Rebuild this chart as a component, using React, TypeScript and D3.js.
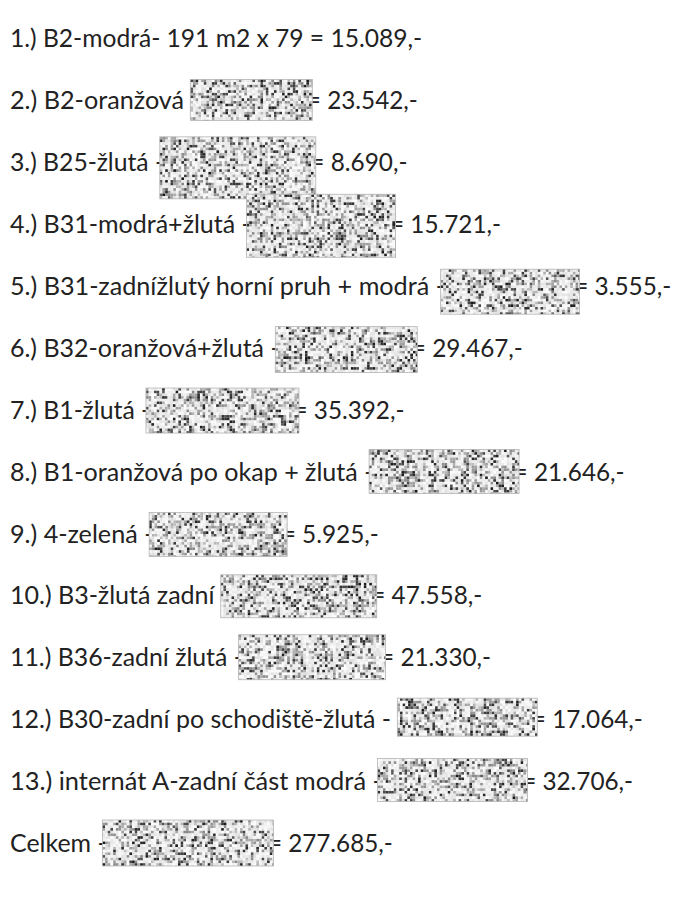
import React, { useEffect, useRef } from "react";
import * as d3 from "d3";

// rows of the price list
const rowLabels = [
  "1.) B2-modrá- 191 m2 x 79 ",
  "2.) B2-oranžová ",
  "3.) B25-žlutá -",
  "4.) B31-modrá+žlutá -",
  "5.) B31-zadnížlutý horní pruh + modrá -",
  "6.) B32-oranžová+žlutá -",
  "7.) B1-žlutá -",
  "8.) B1-oranžová po okap + žlutá -",
  "9.) 4-zelená -",
  "10.) B3-žlutá zadní ",
  "11.) B36-zadní žlutá -",
  "12.) B30-zadní po schodiště-žlutá - ",
  "13.) internát A-zadní část modrá -",
  "Celkem -",
];
const rowAmounts = [15089, 23542, 8690, 15721, 3555, 29467, 35392, 21646, 5925, 47558, 21330, 17064, 32706, 277685];

// layout of the hidden (masked) boxes
const maskWidths = [0, 122, 156, 149, 139, 142, 153, 150, 138, 156, 147, 140, 150, 171];
const maskHeights = [0, 41, 62, 63, 45, 46, 45, 44, 44, 43, 45, 38, 43, 46];
const maskOffsets = [0, 0, 6, 2, 6, 2, 1, 0, 1, 1, 0, -2, -1, 0];

const W = 681;
const H = 920;

const czk = d3.formatLocale({ decimal: ",", thousands: ".", grouping: [3], currency: ["", ""] });
const fmt = (v: number) => czk.format(",")(v) + ",-";

// approximate advance widths (em) of the original document font
const adv: Record<string, number> = {
  " ": 0.226, "+": 0.498, ",": 0.25, "-": 0.306, ".": 0.252, "=": 0.498, ")": 0.303,
  A: 0.579, B: 0.544, C: 0.533,
  a: 0.479, b: 0.525, c: 0.423, d: 0.525, e: 0.498, f: 0.305, g: 0.471, h: 0.525, i: 0.229,
  k: 0.455, l: 0.229, m: 0.799, n: 0.525, o: 0.527, p: 0.525, r: 0.349, s: 0.391, t: 0.335,
  u: 0.525, v: 0.452, x: 0.433, y: 0.453, z: 0.395,
  "á": 0.479, "í": 0.229, "ý": 0.453, "ž": 0.395, "š": 0.391, "č": 0.423, "ě": 0.498,
};
const emWidth = (s: string) =>
  Array.from(s).reduce((acc, ch) => acc + (adv[ch] ?? (/[0-9]/.test(ch) ? 0.507 : 0.5)), 0);

// deterministic hash for the grain texture of the masks
const hash = (a: number, b: number, c: number) => {
  let h = (a * 374761393 + b * 668265263 + c * 2147483647) | 0;
  h = Math.imul(h ^ (h >>> 13), 1274126177);
  h = h ^ (h >>> 16);
  return ((h >>> 0) % 10000) / 10000;
};

export default function App() {
  const ref = useRef<SVGSVGElement>(null);

  useEffect(() => {
    const svg = d3.select(ref.current);
    svg.selectAll("*").remove();

    const y = d3.scaleLinear().domain([0, rowLabels.length - 1]).range([38, 843]);
    const fontFamily = "Lato, 'Open Sans', sans-serif";
    const color = "#222";
    const em = 27.3; // document em in px
    const fs = 25.5; // drawn size, x-height matched
    const left = 10;
    const cell = 2.7;

    const shade = (v: number) => {
      let g: number;
      if (v < 0.15) g = 25 + v * 450;
      else if (v < 0.42) g = 100 + v * 220;
      else g = 198 + v * 57;
      return d3.rgb(g, g, g).toString();
    };

    const addText = (g: any, x: number, cy: number, s: string) => {
      const t = s.trimEnd();
      g.append("text")
        .attr("x", x).attr("y", cy).attr("dy", "0.36em")
        .attr("font-family", fontFamily).attr("font-size", fs).attr("fill", color)
        .attr("textLength", emWidth(t) * em)
        .attr("lengthAdjust", "spacingAndGlyphs")
        .text(t);
      return x + emWidth(s) * em;
    };

    rowLabels.forEach((label, i) => {
      const cy = y(i);
      const g = svg.append("g");
      const value = "= " + fmt(rowAmounts[i]);
      if (maskWidths[i] <= 0) {
        addText(g, left, cy, label + value);
        return;
      }
      const end = addText(g, left, cy, label);
      const bx = label.endsWith("-") ? end - em * 0.16 : end;
      const bw = maskWidths[i];
      const bh = maskHeights[i];
      const by = cy - bh / 2 + maskOffsets[i];
      addText(g, bx + bw - em * 0.2, cy, value);

      const mask = g.append("g");
      mask.append("rect").attr("x", bx).attr("y", by).attr("width", bw).attr("height", bh).attr("fill", "#f2f2f2");
      const nx = Math.ceil(bw / cell);
      const ny = Math.ceil(bh / cell);
      const cells: { cx: number; cy: number; v: number }[] = [];
      for (let a = 0; a < nx; a++) {
        for (let b = 0; b < ny; b++) {
          cells.push({ cx: a, cy: b, v: hash(a + 1, b + 7, i + 3) });
        }
      }
      mask.selectAll("rect.c").data(cells).join("rect")
        .attr("class", "c")
        .attr("x", (d) => bx + d.cx * cell)
        .attr("y", (d) => by + d.cy * cell)
        .attr("width", (d) => Math.min(cell, bw - d.cx * cell))
        .attr("height", (d) => Math.min(cell, bh - d.cy * cell))
        .attr("fill", (d) => shade(d.v));
      mask.append("rect").attr("x", bx).attr("y", by).attr("width", bw).attr("height", bh)
        .attr("fill", "none").attr("stroke", "#b5b5b5").attr("stroke-width", 0.8);
    });
  }, []);

  return (
    <div style={{ margin: -8 }}>
      <svg ref={ref} width={W} height={H} style={{ display: "block", background: "#fff" }} />
    </div>
  );
}
